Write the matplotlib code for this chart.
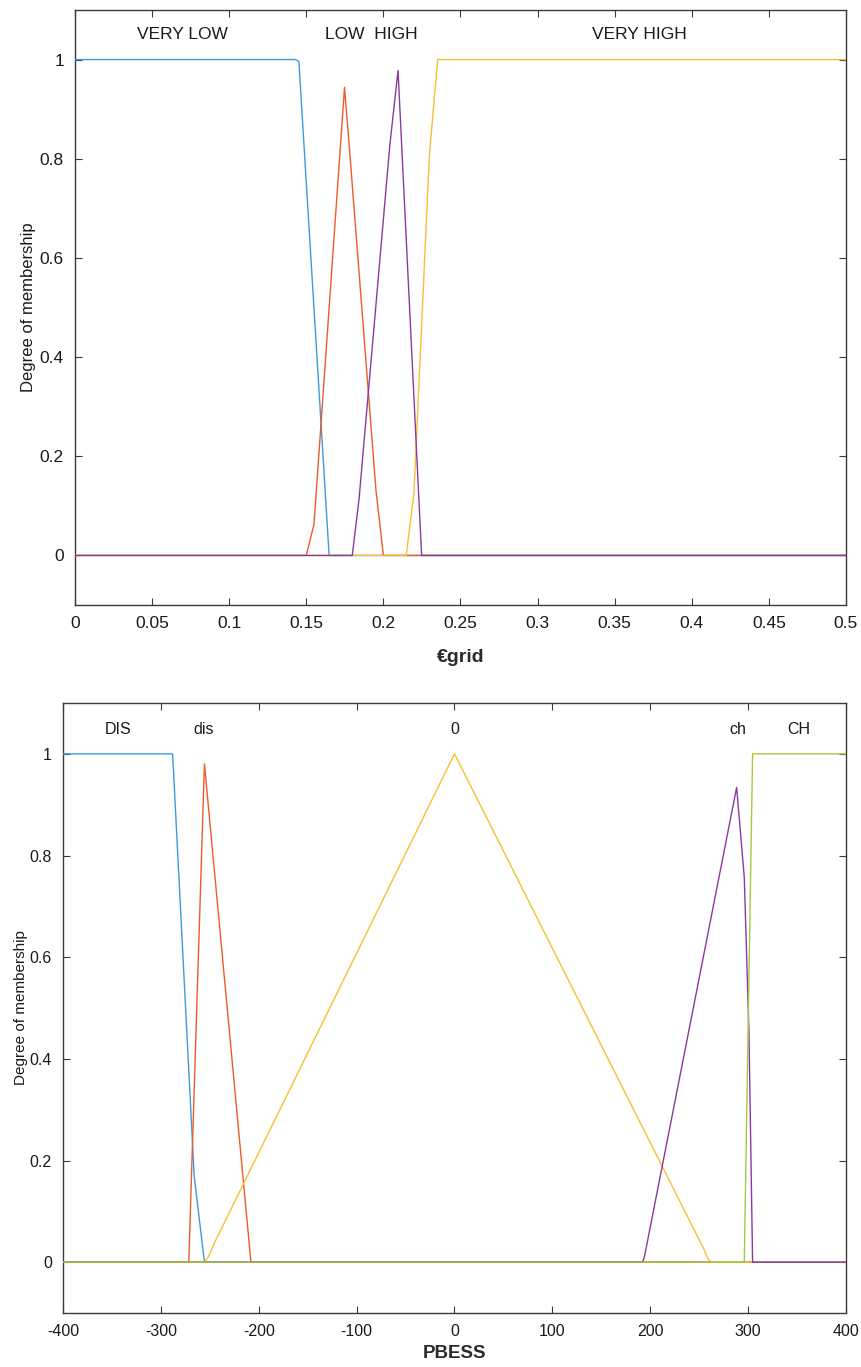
import matplotlib
matplotlib.use("Agg")
import matplotlib.pyplot as plt
from matplotlib.ticker import FuncFormatter

plt.rcParams['font.family'] = ['Liberation Sans', 'DejaVu Sans']
plt.rcParams['axes.unicode_minus'] = False

# ---- Membership functions of the grid price (€grid) ----
grid_labels = ["VERY LOW", "LOW  HIGH", "VERY HIGH"]
grid_label_x = [0.07, 0.192, 0.366]

grid_very_low_x = [0.0, 0.143, 0.1452, 0.1648, 0.5]
grid_very_low_y = [1.0, 1.0, 0.996, 0.0, 0.0]

grid_low_x = [0.0, 0.15, 0.155, 0.1748, 0.1778, 0.1952, 0.2, 0.5]
grid_low_y = [0.0, 0.0, 0.063, 0.944, 0.828, 0.131, 0.0, 0.0]

grid_very_high_x = [0.0, 0.2148, 0.2198, 0.2298, 0.2352, 0.5]
grid_very_high_y = [0.0, 0.0, 0.124, 0.806, 1.0, 1.0]

grid_high_x = [0.0, 0.1798, 0.1842, 0.2042, 0.2095, 0.2248, 0.5]
grid_high_y = [0.0, 0.0, 0.113, 0.828, 0.978, 0.0, 0.0]

# ---- Membership functions of the battery power (PBESS) ----
bess_labels = ["DIS", "dis", "0", "ch", "CH"]
bess_label_x = [-344, -256, 0, 289, 352]

bess_DIS_x = [-400, -288, -266, -255.5, 400]
bess_DIS_y = [1.0, 1.0, 0.17, 0.0, 0.0]

bess_dis_x = [-400, -271.5, -255.5, -208, 400]
bess_dis_y = [0.0, 0.0, 0.98, 0.0, 0.0]

bess_zero_x = [-400, -255.5, -251, -246, 0, 255, 259, 263, 400]
bess_zero_y = [0.0, 0.0, 0.012, 0.035, 1.0, 0.025, 0.006, 0.0, 0.0]

bess_ch_x = [-400, 192, 194, 288.3, 296.1, 300.9, 304.6, 400]
bess_ch_y = [0.0, 0.0, 0.01, 0.934, 0.757, 0.45, 0.0, 0.0]

bess_CH_x = [-400, 296.1, 304.6, 400]
bess_CH_y = [0.0, 0.0, 1.0, 1.0]

C_BLUE = "#3d9be0"
C_ORANGE = "#f05a28"
C_YELLOW = "#f7c033"
C_PURPLE = "#8b3a9c"
C_GREEN = "#a6c93f"
AX_COLOR = "#3a3a3a"
TXT = "#1a1a1a"
LW = 1.0

fig = plt.figure(figsize=(8.62, 13.67), dpi=100)

ax1 = fig.add_axes([0.0870, 0.5574, 0.8944, 0.4353])
ax2 = fig.add_axes([0.0731, 0.0395, 0.9083, 0.4462])


def style_axes(ax, tick_size):
    for sp in ax.spines.values():
        sp.set_color(AX_COLOR)
        sp.set_linewidth(1.0)
    ax.tick_params(direction='in', length=5, width=0.8, color=AX_COLOR,
                   labelcolor=TXT, labelsize=tick_size,
                   top=True, right=True, pad=8)


def plain(v, p):
    return f"{v:g}"


# top panel
ax1.plot(grid_very_low_x, grid_very_low_y, color=C_BLUE, lw=LW, zorder=3)
ax1.plot(grid_low_x, grid_low_y, color=C_ORANGE, lw=LW, zorder=3)
ax1.plot(grid_very_high_x, grid_very_high_y, color=C_YELLOW, lw=LW, zorder=3)
ax1.plot(grid_high_x, grid_high_y, color=C_PURPLE, lw=LW, zorder=3)
ax1.set_xlim(0, 0.5)
ax1.set_ylim(-0.1, 1.1)
ax1.set_xticks([i * 0.05 for i in range(11)])
ax1.set_yticks([0, 0.2, 0.4, 0.6, 0.8, 1.0])
ax1.xaxis.set_major_formatter(FuncFormatter(plain))
ax1.yaxis.set_major_formatter(FuncFormatter(plain))
style_axes(ax1, 12.5)
ax1.set_xlabel("€grid", fontsize=14, fontweight='bold', color="#2a2a2a", labelpad=13)
ax1.set_ylabel("Degree of membership", fontsize=12, color=TXT, labelpad=3)
for lab, xv in zip(grid_labels, grid_label_x):
    ax1.text(xv, 1.05, lab, ha='center', va='center', fontsize=12.5, color=TXT)

# bottom panel
ax2.plot(bess_DIS_x, bess_DIS_y, color=C_BLUE, lw=LW, zorder=3)
ax2.plot(bess_dis_x, bess_dis_y, color=C_ORANGE, lw=LW, zorder=3)
ax2.plot(bess_zero_x, bess_zero_y, color=C_YELLOW, lw=LW, zorder=3)
ax2.plot(bess_ch_x, bess_ch_y, color=C_PURPLE, lw=LW, zorder=3)
ax2.plot(bess_CH_x, bess_CH_y, color=C_GREEN, lw=LW, zorder=3)
ax2.set_xlim(-400, 400)
ax2.set_ylim(-0.1, 1.1)
ax2.set_xticks(list(range(-400, 401, 100)))
ax2.set_yticks([0, 0.2, 0.4, 0.6, 0.8, 1.0])
ax2.yaxis.set_major_formatter(FuncFormatter(plain))
style_axes(ax2, 11.5)
ax2.set_xlabel("PBESS", fontsize=13.5, fontweight='bold', color="#2a2a2a", labelpad=4)
ax2.set_ylabel("Degree of membership", fontsize=11, color=TXT, labelpad=1)
for lab, xv in zip(bess_labels, bess_label_x):
    ax2.text(xv, 1.047, lab, ha='center', va='center', fontsize=11.5, color=TXT)

fig.savefig("out.png", dpi=100)
